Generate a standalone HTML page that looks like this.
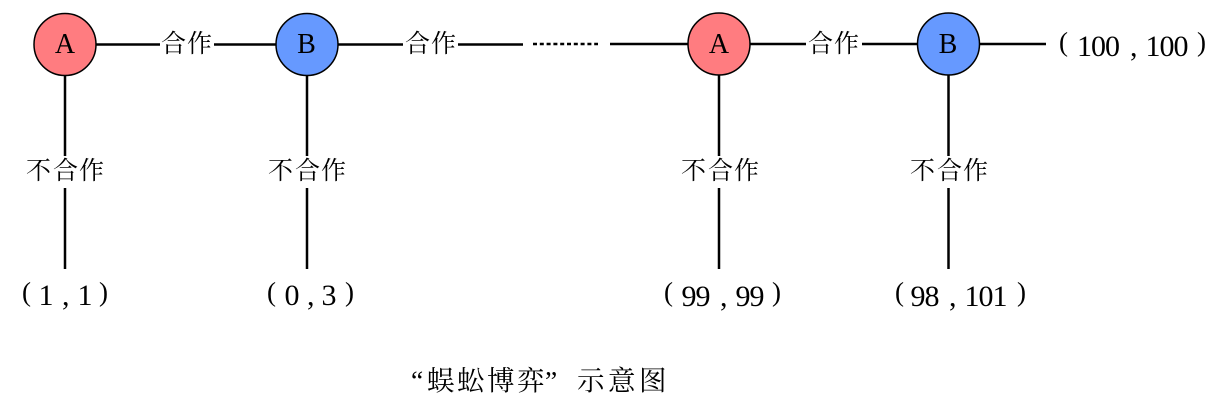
<!DOCTYPE html>
<html><head><meta charset="utf-8"><style>
html,body{margin:0;padding:0;background:#fff;width:1227px;height:409px;overflow:hidden}
svg{display:block}
.z{font-family:"Liberation Serif","Noto Serif CJK SC",serif;font-size:25px;fill:#000}
.t{font-family:"Liberation Serif","Noto Serif CJK SC",serif;font-size:27.5px;fill:#000}
.n{font-family:"Liberation Serif",serif;font-size:30px;fill:#000;letter-spacing:-1px}
.p{font-family:"Liberation Serif",serif;font-size:27px;fill:#000}
.c{font-family:"Liberation Serif",serif;font-size:28px;fill:#000;text-anchor:middle}
</style></head><body>
<svg width="1227" height="409" viewBox="0 0 1227 409" xmlns="http://www.w3.org/2000/svg">
<g stroke="#000" stroke-width="2.500" fill="none">
<path d="M96 44.500H160M214 44.500H276M338 44.500H403M458 44.500H523M610 44H688M750 44H806M862 44H918M980 44H1046"/>
<path d="M533 44H598" stroke-dasharray="4 2.800"/>
<path d="M65 75V156M65 188V269M307 75V156M307 188V269M719 75V156M719 188V269M948.500 75V156M948.500 188V269"/>
</g>
<g stroke="#000" stroke-width="1.500">
<circle cx="65" cy="44.500" r="31" fill="#ff7c80"/>
<circle cx="307" cy="44.500" r="31" fill="#6699ff"/>
<circle cx="719" cy="44" r="31" fill="#ff7c80"/>
<circle cx="948.500" cy="44" r="31" fill="#6699ff"/>
</g>
<text class="c" x="65" y="53">A</text>
<text class="c" x="306.500" y="53">B</text>
<text class="c" x="719" y="53">A</text>
<text class="c" x="948" y="53">B</text>
<text class="z" x="161 187" y="52">合作</text>
<text class="z" x="405 431" y="52">合作</text>
<text class="z" x="808 834" y="52">合作</text>
<text class="z" x="26 53 79" y="179">不合作</text>
<text class="z" x="268 295 321" y="179">不合作</text>
<text class="z" x="681 708 734" y="179">不合作</text>
<text class="z" x="910 937 963" y="179">不合作</text>
<text class="p" x="22" y="301">(</text><text class="n" x="38.500" y="305">1</text><text class="n" x="62" y="305">,</text><text class="n" x="77.500" y="305">1</text><text class="p" x="99" y="301">)</text>
<text class="p" x="267" y="301">(</text><text class="n" x="284.500" y="305">0</text><text class="n" x="307" y="305">,</text><text class="n" x="321.500" y="305">3</text><text class="p" x="345" y="301">)</text>
<text class="p" x="664" y="301">(</text><text class="n" x="681.500" y="306">99</text><text class="n" x="720" y="306">,</text><text class="n" x="735.500" y="306">99</text><text class="p" x="772" y="301">)</text>
<text class="p" x="895" y="301">(</text><text class="n" x="910.500" y="306">98</text><text class="n" x="949" y="306">,</text><text class="n" x="964.500" y="306">101</text><text class="p" x="1017" y="301">)</text>
<text class="p" x="1059" y="51">(</text><text class="n" x="1077" y="56">100</text><text class="n" x="1130" y="56">,</text><text class="n" x="1145.500" y="56">100</text><text class="p" x="1197" y="51">)</text>
<text class="t" x="411 427 457 487 517 545 577 608 639" y="390">“蜈蚣博弈”示意图</text>
</svg>
</body></html>
